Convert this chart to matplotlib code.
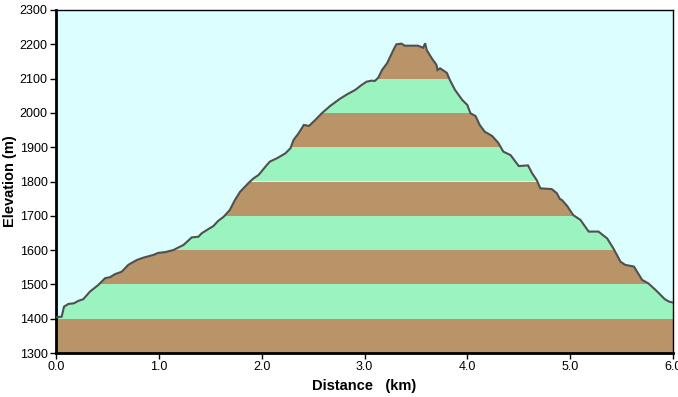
import matplotlib
matplotlib.use("Agg")
import matplotlib.pyplot as plt
from matplotlib.patches import Polygon
import numpy as np

dist_km = [0.0, 0.055, 0.078, 0.12, 0.175, 0.217, 0.266, 0.33, 0.41, 0.477, 0.525, 0.574, 0.639,
           0.703, 0.785, 0.85, 0.947, 0.995, 1.06, 1.14, 1.24, 1.32, 1.385, 1.417, 1.48, 1.53,
           1.58, 1.63, 1.69, 1.74, 1.79, 1.87, 1.92, 1.97, 2.05, 2.08, 2.15, 2.23, 2.28, 2.31,
           2.36, 2.41, 2.46, 2.52, 2.585, 2.665, 2.76, 2.83, 2.91, 2.97, 3.02, 3.07, 3.10, 3.135,
           3.17, 3.22, 3.25, 3.28, 3.31, 3.36, 3.39, 3.52, 3.57, 3.59, 3.605, 3.655, 3.70, 3.71,
           3.735, 3.80, 3.83, 3.88, 3.95, 4.00, 4.03, 4.08, 4.12, 4.17, 4.24, 4.30, 4.35, 4.42,
           4.50, 4.59, 4.63, 4.675, 4.71, 4.82, 4.87, 4.90, 4.92, 4.97, 5.03, 5.10, 5.18, 5.275,
           5.36, 5.42, 5.49, 5.535, 5.62, 5.70, 5.76, 5.83, 5.92, 5.96, 6.0]
elev_m = [1404, 1406, 1435, 1443, 1445, 1452, 1457, 1479, 1498, 1518, 1521, 1530, 1537,
          1557, 1571, 1578, 1586, 1592, 1594, 1600, 1615, 1637, 1639, 1649, 1661, 1670,
          1686, 1697, 1717, 1746, 1770, 1795, 1809, 1819, 1848, 1858, 1868, 1882, 1897, 1921,
          1941, 1965, 1962, 1979, 1999, 2020, 2041, 2054, 2067, 2081, 2091, 2094, 2093, 2103,
          2125, 2145, 2164, 2183, 2200, 2202, 2196, 2196, 2190, 2203, 2183, 2159, 2140, 2125,
          2130, 2117, 2096, 2067, 2038, 2023, 1999, 1991, 1965, 1945, 1933, 1913, 1887, 1877,
          1845, 1847, 1824, 1804, 1780, 1778, 1766, 1749, 1746, 1729, 1702, 1688, 1654, 1654,
          1634, 1605, 1566, 1557, 1552, 1513, 1503, 1484, 1457, 1450, 1447]

x_ticks = [0.0, 1.0, 2.0, 3.0, 4.0, 5.0, 6.0]
y_ticks = [1300, 1400, 1500, 1600, 1700, 1800, 1900, 2000, 2100, 2200, 2300]
band_edges = [1300, 1400, 1500, 1600, 1700, 1800, 1900, 2000, 2100, 2200, 2300]

BG = "#dcfefe"
BROWN = "#b99469"
GREEN = "#9bf3c0"
LINE = "#505050"

plt.rcParams['font.family'] = ['Liberation Sans', 'DejaVu Sans']

fig = plt.figure(figsize=(6.78, 3.97), dpi=100)
ax = fig.add_axes([56/678, 1-353/397, 617/678, 343/397])
ax.set_facecolor(BG)
ax.set_xlim(0, 6)
ax.set_ylim(1300, 2300)

poly_pts = [(dist_km[0], 1300)] + list(zip(dist_km, elev_m)) + [(dist_km[-1], 1300)]
clip = Polygon(poly_pts, closed=True, transform=ax.transData, facecolor="none", edgecolor="none")
ax.add_patch(clip)
for i in range(len(band_edges) - 1):
    c = BROWN if i % 2 == 0 else GREEN
    sp = ax.axhspan(band_edges[i], band_edges[i + 1], color=c, lw=0, zorder=1)
    sp.set_clip_path(clip)

ax.plot(dist_km, elev_m, color=LINE, lw=1.5, zorder=3, solid_joinstyle="miter")

ax.set_xticks(x_ticks)
ax.set_xticklabels([f"{v:.1f}" for v in x_ticks])
ax.set_yticks(y_ticks)
ax.set_yticklabels([str(v) for v in y_ticks])
ax.tick_params(direction="out", length=4, width=1, colors="black", labelsize=9, pad=2)

for s in ["left", "bottom"]:
    ax.spines[s].set_linewidth(2)
for s in ["top", "right"]:
    ax.spines[s].set_linewidth(1)

ax.set_xlabel("Distance   (km)", fontsize=10.5, fontweight="bold", labelpad=4)
ax.set_ylabel("Elevation (m)", fontsize=10.5, fontweight="bold", labelpad=2)

fig.savefig("out.png", dpi=100)
